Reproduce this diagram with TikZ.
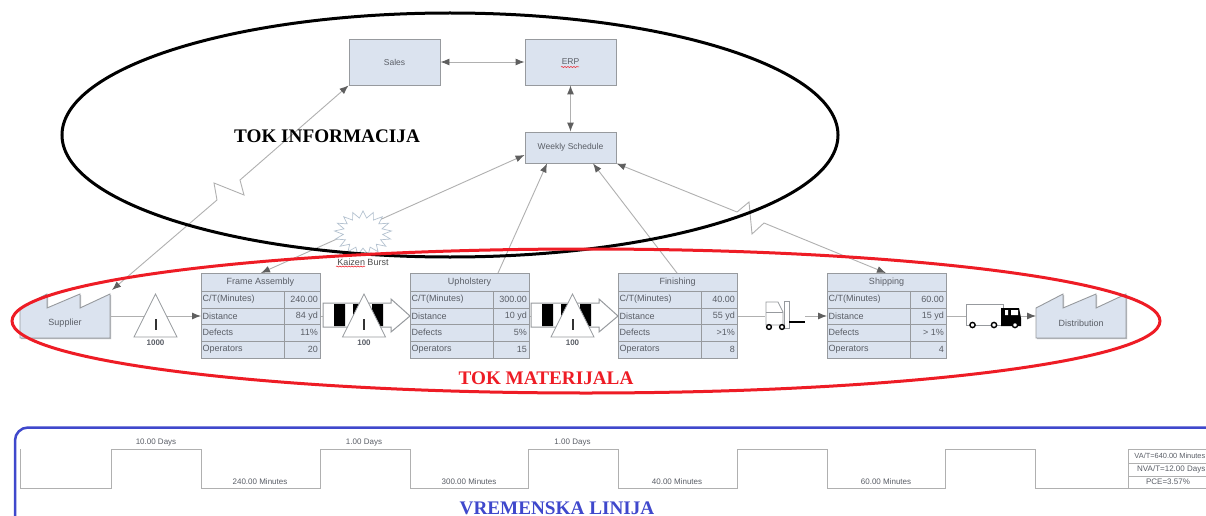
\documentclass[tikz,border=0pt]{standalone}
\usepackage{fontspec}
\setmainfont{Liberation Sans}
\newfontfamily\titlefont{Liberation Serif}
\usetikzlibrary{arrows.meta,shapes.geometric,decorations.pathmorphing,calc}
\definecolor{boxfill}{HTML}{DBE3EF}
\definecolor{boxline}{HTML}{979A9E}
\definecolor{shade}{HTML}{B4B6B9}
\definecolor{conn}{HTML}{B0B0B0}
\definecolor{tipc}{HTML}{5F5F5F}
\definecolor{txt}{HTML}{5A5E66}
\definecolor{tlred}{HTML}{EE1C25}
\definecolor{tlblue}{HTML}{3F48CC}
\definecolor{burstc}{HTML}{B4C2D0}
\tikzset{
  boxshape/.style={draw=boxline,line width=.9pt,fill=boxfill,inner sep=0pt,
    preaction={fill=shade,transform canvas={xshift=1pt,yshift=-1pt}}},
  procbox/.style={boxshape,minimum width=119pt,minimum height=85pt},
  infobox/.style={boxshape,minimum width=91pt,minimum height=46pt,font=\fontsize{8.5}{10}\selectfont,text=txt},
  cell/.style={font=\fontsize{9}{10}\selectfont,text=txt,inner sep=0pt},
  smalllabel/.style={font=\fontsize{8}{9}\selectfont,text=txt,inner sep=0pt},
  conline/.style={draw=conn,line width=.9pt},
  tip/.style={-{Latex[length=9pt,width=7pt,color=tipc]}},
  twotip/.style={{Latex[length=9pt,width=7pt,color=tipc]}-{Latex[length=9pt,width=7pt,color=tipc]}},
  tline/.style={draw=conn,line width=.9pt,line join=miter},
  squiggle/.style={draw=tlred,line width=.5pt,decorate,decoration={snake,amplitude=.5pt,segment length=3pt}},
  invtri/.style={draw=boxline,line width=.8pt,fill=white,line join=miter},
  anchorbox/.style={inner sep=0pt,outer sep=0pt},
}
\newcommand{\procblock}[7]{%
  \begin{scope}[shift={(#2,273)}]
    \node (#1) [procbox,anchor=north west] at (0,0) {};
    \draw[boxline,line width=.8pt] (0,18)--(119,18) (0,35)--(119,35) (0,51)--(119,51) (0,68)--(119,68) (83,18)--(83,85);
    \node (#1t) [cell] at (59.5,9) {#3};
    \node (#1a) [cell,anchor=west] at (1.5,26.5) {C/T(Minutes)};
    \node (#1b) [cell,anchor=west] at (1.5,43) {Distance};
    \node (#1c) [cell,anchor=west] at (1.5,59.5) {Defects};
    \node (#1d) [cell,anchor=west] at (1.5,76.5) {Operators};
    \node (#1e) [cell,anchor=east] at (117,26.5) {#4};
    \node (#1f) [cell,anchor=east] at (117,43) {#5};
    \node (#1g) [cell,anchor=east] at (117,59.5) {#6};
    \node (#1h) [cell,anchor=east] at (117,76.5) {#7};
  \end{scope}}
\newcommand{\factory}[4]{% name, left x, label, peak offsets
  \begin{scope}[shift={(#2,0)}]
    \draw[boxshape] (0,338)--(0,308)--(27,294)--(27,308)--(60,294)--(60,308)--(90,294)--(90,338)--cycle;
    \node (#1) [anchorbox,minimum width=90pt,minimum height=44pt] at (45,316) {};
    \node (#1l) [cell] at (45,323) {#3};
  \end{scope}}
\newcommand{\inventory}[3]{% name, apex x, label
  \draw[invtri] (#2,294)--(#2+21.5,337)--(#2-21.5,337)--cycle;
  \node (#1) [anchorbox] at (#2,316) {};
  \draw[black!80,line width=2pt] (#2,319)--(#2,330);
  \node (#1l) [smalllabel,font=\fontsize{8}{9}\selectfont\bfseries] at (#2,343) {#3};}
\newcommand{\pusharrow}[2]{% left x, name
  \begin{scope}[shift={(#1,0)}]
    \draw[boxline,line width=1pt,fill=white,line join=miter] (0,303)--(68,303)--(68,299)--(87,316)--(68,332)--(68,327)--(0,327)--cycle;
    \fill[black] (11,304)--(22,304)--(22,326)--(11,326)--cycle (30,304)--(40,304)--(40,326)--(30,326)--cycle (49,304)--(60,304)--(60,326)--(49,326)--cycle;
    \node (#2) [anchorbox] at (43,316) {};
  \end{scope}}
\begin{document}
\begin{tikzpicture}[x=1pt,y=-1pt]
\useasboundingbox (0,0) rectangle (1206,516);
\fill[white] (0,0) rectangle (1206,516);

% information boxes
\node (sales) [infobox] at (394.5,62) {Sales};
\node (erp) [infobox] at (570.5,62) {ERP};
\node (wk) [infobox,minimum height=31pt] at (570.5,147.5) {Weekly Schedule};
\draw[squiggle] (561,67)--(579,67);

% process blocks
\procblock{fa}{201}{Frame Assembly}{240.00}{84 yd}{11\%}{20}
\procblock{up}{410}{Upholstery}{300.00}{10 yd}{5\%}{15}
\procblock{fi}{618}{Finishing}{40.00}{55 yd}{>1\%}{8}
\procblock{sh}{827}{Shipping}{60.00}{15 yd}{> 1\%}{4}
\factory{sup}{20}{Supplier}{}
\factory{dist}{1036}{Distribution}{}

% forklift and truck anchors
\node (fork) [anchorbox,minimum width=40pt,minimum height=28pt] at (785,316) {};
\node (truck) [anchorbox,minimum width=55pt,minimum height=24pt] at (993.5,316) {};

% connectors
\draw[conline,twotip] (sales.east)--(erp.west);
\draw[conline,twotip] (erp.south)--(wk.north);
\draw[conline,twotip] (sales.south west)--(263,160)--(240,180)--(244,195)--(214,183)--(217,200)--([xshift=2pt,yshift=4pt]sup.north east);
\draw[conline,twotip] ([yshift=-7.5pt]wk.west)--(fa.north);
\draw[conline,tip] ([xshift=88pt]up.north west)--([xshift=-23.5pt]wk.south);
\draw[conline,tip] ([xshift=59pt]fi.north west)--([xshift=22.5pt]wk.south);
\draw[conline,twotip] (wk.south east)--(737,212)--(749,202)--(752,234)--(764,223)--([xshift=-1pt]sh.north);
\draw[conline,tip] (sup.east)--([yshift=-43pt]fa.north west);
\draw[conline] (fi.north east |- fork.west) -- (fork.west);
\draw[conline,tip] (fork.east)--([yshift=-43pt]sh.north west);
\draw[conline] ([yshift=-43pt]sh.north east)--(truck.west);
\draw[conline,tip] (truck.east)--(dist.west);

% inventory and push
\inventory{inv1}{155.5}{1000}
\draw[conline] ([yshift=-43pt]fa.north east)--(323,316);
\pusharrow{323}{push1}
\inventory{inv2}{364}{100}
\draw[conline] ([yshift=-43pt]up.north east)--(531,316);
\pusharrow{531}{push2}
\inventory{inv3}{572.5}{100}

% forklift
\draw[boxline,line width=.8pt,fill=white] (766,325)--(766,302)--(778,302)--(783,312)--(783,325)--cycle;
\draw[boxline,line width=.8pt] (766,312)--(783,312);
\draw[boxline,line width=.8pt,fill=white] (784,301) rectangle (789,328);
\draw[black,line width=2pt] (789,322)--(805,322);
\draw[black,line width=1.4pt,fill=white] (769,327) circle (2.4pt) (782,327) circle (2.4pt);

% truck
\draw[boxline,line width=.7pt,fill=white] (966,304) rectangle (1003,325);
\fill[black] (1001,308)--(1019,308)--(1021,318)--(1021,326)--(1001,326)--cycle;
\fill[white] (1005,310) rectangle (1008,315) (1011,310) rectangle (1018,315);
\draw[black,line width=1.4pt,fill=white] (972.5,325) circle (2.6pt) (994,325) circle (2.6pt) (1015,325) circle (2.6pt);

% kaizen
\node (burst) [star,star points=17,star point ratio=1.45,minimum size=44pt,inner sep=0pt,draw=burstc,line width=.7pt,fill=white,xscale=1.3,transform shape] at (363,233) {};
\node (kz) [cell,text=black!70] at (363,262) {Kaizen Burst};
\draw[squiggle] (336,266.5)--(365,266.5);

% ellipses
\node (blackring) [anchorbox,minimum width=776pt,minimum height=244pt] at (450,135) {};
\draw[black,line width=3pt] (blackring.center) ellipse [x radius=388,y radius=122];
\node (redring) [anchorbox,minimum width=1148pt,minimum height=144pt] at (586,321) {};
\draw[tlred,line width=3pt] (redring.center) ellipse [x radius=574,y radius=72];

% titles
\node (t1) [inner sep=0pt,font=\titlefont\bfseries\fontsize{19.2}{21}\selectfont,text=black] at (327,136) {TOK INFORMACIJA};
\node (t2) [inner sep=0pt,font=\titlefont\bfseries\fontsize{19.2}{21}\selectfont,text=tlred] at (546,378) {TOK MATERIJALA};
\node (t3) [inner sep=0pt,font=\titlefont\bfseries\fontsize{19.2}{21}\selectfont,text=tlblue] at (557,508) {VREMENSKA LINIJA};

% timeline frame
\draw[tlblue,line width=2.5pt,rounded corners=13pt] (15,540)--(15,427.5)--(1225,427.5);

% timeline
\draw[tline] (20,449)--(20,488)--(111,488)--(111,449)--(201,449)--(201,488)--(320,488)--(320,449)--(410,449)--(410,488)--(528,488)--(528,449)--(618,449)--(618,488)--(737,488)--(737,449)--(827,449)--(827,488)--(945,488)--(945,449)--(1035,449)--(1035,488)--(1128,488);
\node (d1) [smalllabel] at (156,443) {10.00 Days};
\node (d2) [smalllabel] at (364,443) {1.00 Days};
\node (d3) [smalllabel] at (572.5,443) {1.00 Days};
\node (m1) [smalllabel] at (260,482) {240.00 Minutes};
\node (m2) [smalllabel] at (469,482) {300.00 Minutes};
\node (m3) [smalllabel] at (677,482) {40.00 Minutes};
\node (m4) [smalllabel] at (886,482) {60.00 Minutes};
\draw[tline] (1210,449)--(1128,449)--(1128,488)--(1210,488) (1128,463)--(1210,463) (1128,476)--(1210,476);
\node (va) [smalllabel,anchor=east,font=\fontsize{7.4}{9}\selectfont] at (1205.5,456) {VA/T=640.00 Minutes};
\node (nva) [smalllabel,anchor=east] at (1205.5,469.5) {NVA/T=12.00 Days};
\node (pce) [smalllabel] at (1168,482) {PCE=3.57\%};
\end{tikzpicture}
\end{document}
